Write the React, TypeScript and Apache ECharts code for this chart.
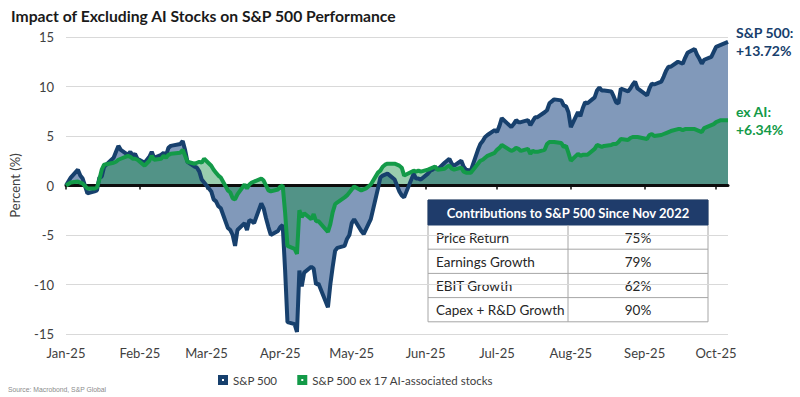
import React, { useEffect, useRef } from "react";
import * as echarts from "echarts";

// ---------- data ----------
const YEAR = 2025;
const axisStart = "2025-01-01";
const axisEnd = "2025-10-06";

const obsDates = [
  "01-01","01-03","01-06","01-07","01-08","01-10","01-13","01-14","01-15","01-16","01-17",
  "01-21","01-22","01-23","01-24","01-27","01-28","01-29","01-30","01-31",
  "02-03","02-05","02-06","02-07","02-10","02-11","02-12","02-13","02-14","02-18","02-19",
  "02-20","02-21","02-24","02-25","02-26","02-27","02-28",
  "03-03","03-04","03-05","03-06","03-07","03-10","03-11","03-12","03-13","03-14","03-17",
  "03-18","03-19","03-20","03-21","03-24","03-25","03-26","03-27","03-28","03-31",
  "04-01","04-02","04-03","04-04","04-07","04-08","04-09","04-10","04-11","04-14","04-15",
  "04-16","04-17","04-21","04-22","04-23","04-24","04-25","04-28","04-29","04-30",
  "05-01","05-02","05-05","05-06","05-07","05-08","05-09","05-12","05-13","05-14","05-15",
  "05-16","05-19","05-20","05-21","05-22","05-23","05-27","05-28","05-29","05-30",
  "06-02","06-03","06-04","06-05","06-06","06-09","06-10","06-11","06-12","06-13","06-16",
  "06-17","06-18","06-20","06-23","06-24","06-25","06-26","06-27","06-30",
  "07-01","07-02","07-03","07-07","07-08","07-09","07-10","07-11","07-14","07-15","07-16",
  "07-17","07-18","07-21","07-22","07-23","07-24","07-25","07-28","07-29","07-30","07-31",
  "08-01","08-04","08-05","08-06","08-07","08-08","08-11","08-12","08-13","08-14","08-15",
  "08-18","08-19","08-20","08-21","08-22","08-25","08-26","08-27","08-28","08-29",
  "09-02","09-03","09-04","09-05","09-08","09-09","09-10","09-11","09-12","09-15","09-16",
  "09-17","09-18","09-19","09-22","09-23","09-24","09-25","09-26","09-29","09-30",
  "10-01","10-02","10-03","10-06"
];

const sp500 = [
  0, 0.8, 1.6, 1.0, 0.7, -0.8, -0.6, -0.5, 0.8, 0.9, 1.9,
  2.8, 3.4, 4.0, 3.6, 3.1, 3.4, 3.0, 3.2, 2.7,
  2.3, 2.9, 3.4, 2.8, 3.1, 3.3, 3.0, 3.8, 4.0, 4.2, 4.5,
  3.6, 2.4, 1.9, 1.8, 1.4, 0.6, 0.3,
  -0.6, -1.4, -1.6, -2.1, -2.3, -4.3, -4.5, -5.0, -6.1, -4.5, -3.8,
  -4.5, -3.5, -3.6, -3.8, -1.8, -2.3, -3.3, -4.2, -5.0, -4.6,
  -4.2, -4.0, -8.5, -13.8, -14.0, -14.8, -8.6, -10.2, -8.8, -8.2, -8.4,
  -10.0, -9.9, -12.3, -10.0, -8.2, -6.6, -6.3, -6.1, -5.4, -5.0,
  -3.8, -3.4, -4.6, -4.9, -4.4, -3.9, -3.4, -0.3, 0.8, 1.0, 1.1,
  1.2, 0.6, 0.0, -0.6, -1.0, -1.2, 1.2, 0.7, 0.7, 0.6,
  1.2, 1.5, 1.6, 1.9, 1.6, 2.3, 2.5, 2.7, 2.2, 2.0, 2.5,
  1.9, 1.6, 1.5, 3.6, 4.2, 4.5, 4.9, 5.1, 5.6,
  5.4, 6.0, 6.8, 5.9, 6.2, 6.6, 6.4, 6.4, 6.6, 6.1, 6.5,
  6.9, 6.9, 7.4, 7.6, 8.3, 8.5, 8.7, 8.6, 8.1, 8.0, 7.4,
  5.9, 7.4, 7.0, 7.8, 8.4, 8.3, 8.9, 9.6, 9.9, 9.6, 9.6,
  9.5, 9.0, 8.4, 8.3, 9.8, 9.5, 9.8, 10.2, 10.5, 9.8,
  9.1, 9.8, 10.3, 10.2, 10.5, 11.0, 11.6, 12.0, 12.0, 12.5, 12.4,
  12.3, 12.9, 13.4, 13.8, 13.2, 12.8, 12.3, 12.7, 13.0, 13.5,
  14.0, 14.1, 14.2, 14.5
];

const exAI = [
  0, 0.3, 0.4, 0.3, 0.2, -0.3, -0.3, -0.2, 0.6, 1.6, 2.1,
  2.3, 2.4, 2.6, 2.7, 3.0, 2.9, 2.7, 2.7, 2.6,
  2.0, 2.5, 3.0, 2.6, 2.7, 3.0, 2.8, 3.1, 3.2, 3.3, 3.6,
  3.0, 2.4, 2.2, 2.3, 2.4, 2.3, 2.7,
  2.0, 1.6, 1.3, 1.0, 0.8, -0.5, -0.7, -1.3, -1.4, -0.9, 0.1,
  -0.3, 0.1, 0.3, 0.4, 0.7, 0.5, 0.0, -0.5, -0.6, -0.4,
  -0.1, 0.0, -2.7, -6.1, -6.4, -6.9, -2.5, -3.2, -2.8, -3.4, -2.9,
  -3.6, -3.6, -4.7, -3.9, -2.7, -1.9, -1.7, -1.2, -1.0, -0.7,
  -0.4, -0.1, -0.5, -0.4, -0.3, -0.1, 0.1, 1.3, 1.5, 1.9, 2.1,
  2.2, 2.2, 2.1, 2.0, 1.8, 1.0, 1.5, 1.4, 1.5, 1.4,
  1.6, 1.7, 1.8, 1.9, 1.6, 1.7, 1.9, 2.0, 1.7, 1.6, 1.8,
  1.4, 1.3, 1.3, 2.2, 2.5, 2.6, 2.8, 3.0, 3.3,
  3.6, 3.8, 4.1, 3.5, 3.6, 3.8, 3.7, 3.5, 3.7, 3.2, 3.5,
  3.4, 3.4, 3.6, 4.2, 4.4, 4.4, 4.4, 4.3, 3.9, 4.0, 3.3,
  2.5, 3.2, 3.0, 3.1, 3.1, 3.1, 3.7, 4.1, 4.0, 3.9, 4.0,
  4.1, 4.2, 4.2, 4.4, 4.7, 4.6, 4.8, 4.9, 4.9, 4.9,
  4.7, 5.1, 5.2, 5.0, 5.1, 5.2, 5.3, 5.4, 5.5, 5.7, 5.7,
  5.6, 5.7, 5.7, 5.7, 5.6, 5.5, 5.4, 5.8, 6.1, 6.2,
  6.4, 6.5, 6.6, 6.6
];

const seriesNames = ["S&P 500", "S&P 500 ex 17 AI-associated stocks"];
const endLabels = ["S&P 500:\n+13.72%", "ex AI:\n+6.34%"];
const monthNames = ["Jan","Feb","Mar","Apr","May","Jun","Jul","Aug","Sep","Oct","Nov","Dec"];
const yMin = -15;
const yMax = 15;
const yStep = 5;

const titleText = "Impact of Excluding AI Stocks on S&P 500 Performance";
const yAxisName = "Percent (%)";
const sourceText = "Source: Macrobond, S&P Global";

const tableTitle = "Contributions to S&P 500 Since Nov 2022";
const tableLabels = ["Price Return", "Earnings Growth", "EBIT Growth", "Capex + R&D Growth"];
const tableValues = ["75%", "79%", "62%", "90%"];

// ---------- styling ----------
const NAVY = "#17406d";
const GREEN = "#139a48";
const FONT = "Lato";

function buildCategories(): string[] {
  const out: string[] = [];
  const d = new Date(axisStart + "T00:00:00Z");
  const end = new Date(axisEnd + "T00:00:00Z").getTime();
  while (d.getTime() <= end) {
    out.push(d.toISOString().slice(0, 10));
    d.setUTCDate(d.getUTCDate() + 1);
  }
  return out;
}

function alignTo(categories: string[], values: number[]): (number | null)[] {
  const m = new Map<string, number>();
  obsDates.forEach((k, i) => m.set(`${YEAR}-${k}`, values[i]));
  return categories.map((c) => (m.has(c) ? (m.get(c) as number) : null));
}

function buildTable() {
  const W = 280;
  const headH = 25;
  const rowH = 24.2;
  const split = 140;
  const totalH = headH + rowH * tableLabels.length;
  const children: any[] = [
    { type: "rect", shape: { x: 0, y: 0, width: W, height: totalH }, style: { fill: "#ffffff", stroke: "#a6a6a6", lineWidth: 1 } },
    { type: "rect", shape: { x: 0, y: 0, width: W, height: headH }, style: { fill: "#1f3c6b", stroke: "#1f3c6b", lineWidth: 1 } },
    {
      type: "text", x: W / 2, y: headH / 2 + 0.5,
      style: { text: tableTitle, fill: "#ffffff", fontFamily: FONT, fontWeight: "bold", fontSize: 13, align: "center", verticalAlign: "middle" },
    },
    { type: "line", shape: { x1: split, y1: headH, x2: split, y2: totalH }, style: { stroke: "#a6a6a6", lineWidth: 1 } },
  ];
  tableLabels.forEach((lab, i) => {
    const yTop = headH + i * rowH;
    if (i > 0) {
      children.push({ type: "line", shape: { x1: 0, y1: yTop, x2: W, y2: yTop }, style: { stroke: "#a6a6a6", lineWidth: 1 } });
    }
    children.push({
      type: "text", x: 8, y: yTop + rowH / 2 + 0.5,
      style: { text: lab, fill: "#262626", fontFamily: FONT, fontSize: 13.5, align: "left", verticalAlign: "middle" },
    });
    children.push({
      type: "text", x: split + (W - split) / 2, y: yTop + rowH / 2 + 0.5,
      style: { text: tableValues[i], fill: "#262626", fontFamily: FONT, fontSize: 13.5, align: "center", verticalAlign: "middle" },
    });
  });
  return { type: "group", x: 428, y: 200, z: 100, children };
}

export default function App() {
  const ref = useRef<HTMLDivElement>(null);

  useEffect(() => {
    if (!ref.current) return;
    const chart = echarts.init(ref.current, null, { renderer: "svg" });
    const categories = buildCategories();
    const spData = alignTo(categories, sp500);
    const exData = alignTo(categories, exAI);
    const isMonthStart = (_i: number, v: string) => v.endsWith("-01");
    const legendIcon = "path://M0 0H10V10H0Z M4 4V6H6V4Z";

    const option: any = {
      animation: false,
      backgroundColor: "#ffffff",
      textStyle: { fontFamily: FONT },
      title: {
        text: titleText,
        left: 6,
        top: 3,
        textStyle: { fontFamily: FONT, fontWeight: "bold", fontSize: 15.7, color: "#1a1a1a" },
      },
      grid: { left: 62, right: 72, top: 37, bottom: 63, containLabel: false },
      legend: {
        data: seriesNames.map((n) => ({ name: n, icon: legendIcon })),
        left: 218,
        top: 374,
        padding: 0,
        itemWidth: 10,
        itemHeight: 10,
        itemGap: 20,
        textStyle: { fontFamily: FONT, fontSize: 11.5, color: "#404040" },
      },
      xAxis: [
        {
          type: "category",
          data: categories,
          boundaryGap: false,
          position: "bottom",
          z: 3,
          axisLine: { show: true, onZero: true, lineStyle: { color: "#0d0d0d", width: 3 } },
          axisTick: { show: true, interval: isMonthStart, length: 4, lineStyle: { color: "#0d0d0d", width: 1.5 } },
          axisLabel: { show: false },
          splitLine: { show: false },
        },
        {
          type: "category",
          data: categories,
          boundaryGap: false,
          position: "bottom",
          axisLine: { show: false, onZero: false },
          axisTick: { show: false },
          splitLine: { show: false },
          axisLabel: {
            interval: isMonthStart,
            margin: 12,
            color: "#404040",
            fontSize: 13,
            fontFamily: FONT,
            formatter: (v: string) => `${monthNames[parseInt(v.slice(5, 7), 10) - 1]}-${v.slice(2, 4)}`,
          },
        },
      ],
      yAxis: {
        type: "value",
        min: yMin,
        max: yMax,
        interval: yStep,
        name: yAxisName,
        nameLocation: "middle",
        nameGap: 45,
        nameTextStyle: { fontFamily: FONT, fontSize: 13, color: "#404040" },
        axisLine: { show: false },
        axisTick: { show: false },
        axisLabel: { color: "#404040", fontSize: 13, fontFamily: FONT, margin: 12 },
        splitLine: { lineStyle: { color: "#d9d9d9", width: 1 } },
      },
      series: [
        {
          name: "S&P 500 area",
          type: "line",
          xAxisIndex: 0,
          data: spData,
          connectNulls: true,
          showSymbol: false,
          silent: true,
          lineStyle: { opacity: 0 },
          areaStyle: { color: "#8199ba", opacity: 1, origin: "auto" },
        },
        {
          name: "ex AI area",
          type: "line",
          xAxisIndex: 0,
          data: exData,
          connectNulls: true,
          showSymbol: false,
          silent: true,
          lineStyle: { opacity: 0 },
          areaStyle: { color: "rgba(20,140,70,0.62)", origin: "auto" },
        },
        {
          name: seriesNames[0],
          type: "line",
          xAxisIndex: 0,
          data: spData,
          connectNulls: true,
          showSymbol: false,
          itemStyle: { color: NAVY },
          lineStyle: { color: NAVY, width: 4 },
          endLabel: {
            show: true,
            formatter: endLabels[0],
            color: NAVY,
            fontFamily: FONT,
            fontWeight: "bold",
            fontSize: 14,
            lineHeight: 18,
            distance: 8,
          },
        },
        {
          name: seriesNames[1],
          type: "line",
          xAxisIndex: 0,
          data: exData,
          connectNulls: true,
          showSymbol: false,
          itemStyle: { color: GREEN },
          lineStyle: { color: GREEN, width: 4 },
          endLabel: {
            show: true,
            formatter: endLabels[1],
            color: GREEN,
            fontFamily: FONT,
            fontWeight: "bold",
            fontSize: 14,
            lineHeight: 18,
            distance: 8,
          },
        },
      ],
      graphic: [
        buildTable(),
        {
          type: "text",
          left: 8,
          top: 386,
          z: 100,
          style: { text: sourceText, fill: "#8c8c8c", fontFamily: "Liberation Sans", fontSize: 6.8 },
        },
      ],
    };

    chart.setOption(option);
    return () => chart.dispose();
  }, []);

  return (
    <div
      ref={ref}
      style={{ position: "fixed", left: 0, top: 0, width: 800, height: 397, background: "#fff" }}
    />
  );
}
